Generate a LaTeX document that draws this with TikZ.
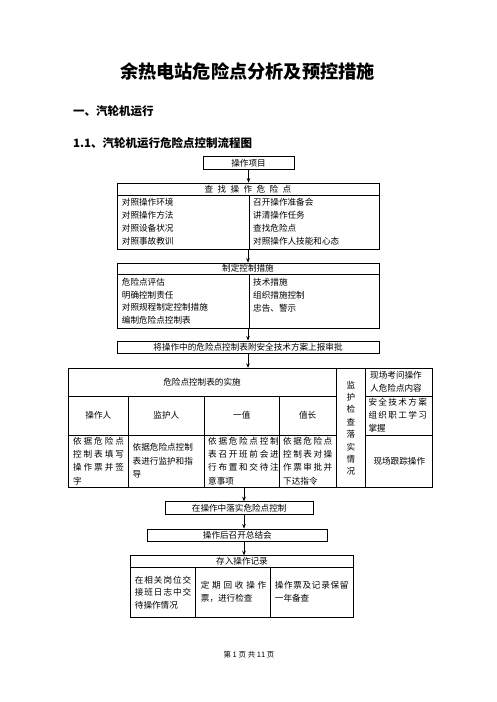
\documentclass[tikz,border=0pt]{standalone}
\usepackage{fontspec}
\newfontfamily\cjk{Noto Sans CJK SC}
\usetikzlibrary{arrows.meta}
\newcommand\gp{\hspace{4.4pt}}
\makeatletter
\def\hf@loop#1#2\@nil{#1\ifx\relax#2\relax\else\hfill\hf@loop#2\@nil\fi}
\newcommand\spr[2]{\makebox[#1pt][l]{\hf@loop#2\@nil}}
\makeatother
\begin{document}
\begin{tikzpicture}[x=1pt,y=-1pt,
  box/.style={draw, line width=0.9pt, inner sep=0pt, font=\cjk\fontsize{8.6}{13}\selectfont},
  txt/.style={inner sep=0pt, font=\cjk\fontsize{8.6}{13}\selectfont},
  lines/.style={inner sep=0pt, align=left, anchor=west, font=\cjk\fontsize{8.6}{#1}\selectfont},
  rule/.style={line width=0.9pt},
  arr/.style={line width=0.9pt, -{Stealth[length=4.5pt,width=3.6pt]}},
  head/.style={inner sep=0pt, anchor=west, font=\cjk\bfseries\fontsize{11.5}{13}\selectfont}]
\fill[white] (0,0) rectangle (496,702);
\useasboundingbox (0,0) rectangle (496,702);

% headings
\node[inner sep=0pt, font=\cjk\bfseries\fontsize{18.2}{20}\selectfont] (title) at (247.5,72) {余热电站危险点分析及预控措施};
\node[head] (h1) at (73,111) {一、汽轮机运行};
\node[head] (h2) at (73,143) {1.1、汽轮机运行危险点控制流程图};

% box 1
\node[box, minimum width=91pt, minimum height=12.6pt] (b1) at (248.5,163) {操作项目};

% box 2
\node[box, minimum width=262pt, minimum height=66pt] (b2) at (248,216) {};
\draw[rule] (117,195.5) -- (379,195.5);
\draw[rule] (249,195.5) -- (249,249);
\node[txt] (b2h) at (248,189.3) {查\gp 找\gp 操\gp 作\gp 危\gp 险\gp 点};
\node[lines=13] (b2l) at (121.7,222.2) {对照操作环境\\对照操作方法\\对照设备状况\\对照事故教训};
\node[lines=13] (b2r) at (253,222.2) {召开操作准备会\\讲清操作任务\\查找危险点\\对照操作人技能和心态};

% box 3
\node[box, minimum width=262pt, minimum height=65.3pt] (b3) at (248,295.65) {};
\draw[rule] (117,274) -- (379,274);
\draw[rule] (249,274) -- (249,328.3);
\node[txt] (b3h) at (248,268.5) {制定控制措施};
\node[lines=12.6] (b3l) at (121.7,301.2) {危险点评估\\明确控制责任\\对照规程制定控制措施\\编制危险点控制表};
\node[lines=13] (b3r) at (253,295.3) {技术措施\\组织措施控制\\忠告、警示};

% box 4
\node[box, minimum width=262pt, minimum height=12pt] (b4) at (248,347) {将操作中的危险点控制表附安全技术方案上报审批};

% table
\node[box, minimum width=364.4pt, minimum height=119.4pt] (T) at (250.5,428) {};
\draw[rule] (68.3,396) -- (336,396);
\draw[rule] (365.7,396) -- (432.7,396);
\draw[rule] (68.3,435) -- (336,435);
\draw[rule] (365.7,435) -- (432.7,435);
\foreach \x in {128.3,204.3,279.3} \draw[rule] (\x,396) -- (\x,487.7);
\foreach \x in {336,365.7} \draw[rule] (\x,368.3) -- (\x,487.7);
\node[txt] (th) at (202,382.2) {危险点控制表的实施};
\node[txt] (tc1) at (98.3,415.5) {操作人};
\node[txt] (tc2) at (166.3,415.5) {监护人};
\node[txt] (tc3) at (241.8,415.5) {一值};
\node[txt] (tc4) at (307.7,415.5) {值长};
\node[lines=13.33] (td1) at (72.8,461) {\spr{51}{依据危险点}\\\spr{51}{控制表填写}\\\spr{51}{操作票并签}\\字};
\node[lines=13.33] (td2) at (132.5,460.7) {依据危险点控制\\表进行监护和指\\导};
\node[lines=13.33] (td3) at (208,461) {\spr{70.5}{依据危险点控制}\\\spr{70.5}{表召开班前会进}\\\spr{70.5}{行布置和交待注}\\意事项};
\node[lines=13.33] (td4) at (283,461) {\spr{49}{依据危险点}\\\spr{49}{控制表对操}\\\spr{49}{作票审批并}\\下达指令};
\node[inner sep=0pt, align=center, font=\cjk\fontsize{8.6}{12.4}\selectfont] (tv) at (351,428.3) {监\\护\\检\\查\\落\\实\\情\\况};
\node[lines=13.3] (tr1) at (370,381.7) {现场考问操作\\人危险点内容};
\node[lines=12.7] (tr2) at (368.3,415) {\spr{58.5}{安全技术方案}\\\spr{58.5}{组织职工学习}\\掌握};
\node[txt] (tr3) at (399.3,461.5) {现场跟踪操作};

% lower boxes
\node[box, minimum width=148.3pt, minimum height=12.6pt] (b5) at (239.2,508) {在操作中落实危险点控制};
\node[box, minimum width=180pt, minimum height=12pt] (b6) at (237.3,535) {操作后召开总结会};

\node[box, minimum width=222.6pt, minimum height=61.3pt] (b7) at (242,586.35) {};
\draw[rule] (130.7,567.7) -- (353.3,567.7);
\foreach \x in {195.5,270} \draw[rule] (\x,567.7) -- (\x,617);
\node[txt] (b7h) at (242,561.7) {存入操作记录};
\node[lines=12.5] (b7a) at (134.7,592.5) {\spr{56.3}{在相关岗位交}\\\spr{56.3}{接班日志中交}\\待操作情况};
\node[lines=12.6] (b7b) at (200.7,592) {\spr{65.3}{定期回收操作}\\票，进行检查};
\node[lines=12.6] (b7c) at (274.7,592) {\spr{73.5}{操作票及记录保留}\\一年备查};

% footer
\node[inner sep=0pt, font=\cjk\fontsize{7.5}{9}\selectfont] (foot) at (249,655) {第 1 页 共 11 页};

% connectors
\coordinate (ax) at (244,0);
\draw[arr] (b1.south) -- (b1.south |- b2.north);
\draw[arr] (b2.south) -- (b3.north);
\draw[arr] (b3.south) -- (b4.north);
\draw[arr] (b4.south) -- (b4.south |- T.north);
\draw[arr] (T.south -| ax) -- (b5.north -| ax);
\draw[arr] (b5.south -| ax) -- (b6.north -| ax);
\draw[arr] (b6.south -| ax) -- (b7.north -| ax);
\end{tikzpicture}
\end{document}
